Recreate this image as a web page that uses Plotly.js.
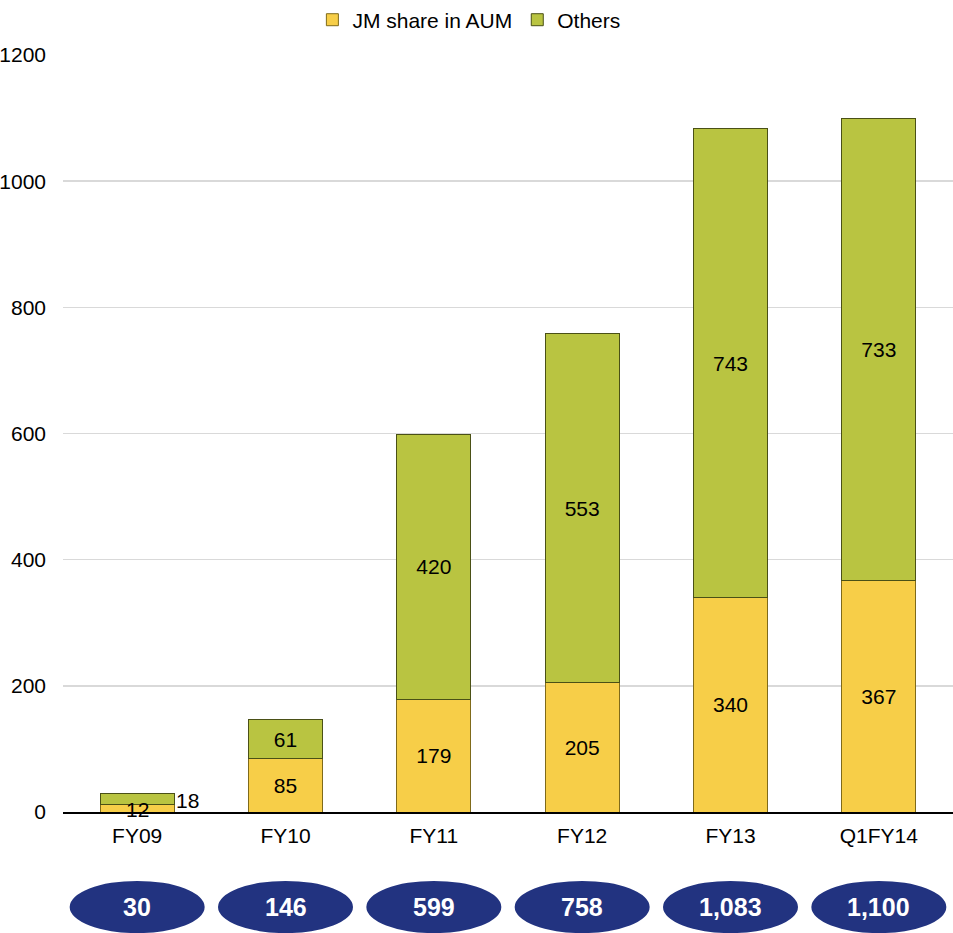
<!DOCTYPE html>
<html>
<head>
<meta charset="utf-8">
<script src="https://cdn.plot.ly/plotly-3.0.1.min.js"></script>
<style>html,body{margin:0;padding:0;background:#fff;}#chart{width:953px;height:933px;}</style>
</head>
<body>
<div id="chart"></div>
<script>
const categories = ["FY09", "FY10", "FY11", "FY12", "FY13", "Q1FY14"];
const jmShare = [12, 85, 179, 205, 340, 367];
const others = [18, 61, 420, 553, 743, 733];
const totals = [30, 146, 599, 758, 1083, 1100];
const totalLabels = ["30", "146", "599", "758", "1,083", "1,100"];
const yTicks = [0, 200, 400, 600, 800, 1000, 1200];

const FONT = "Liberation Sans, Arial, sans-serif";

// FY09 segments are too small: labels drawn as annotations instead of inside the bar
const jmText = jmShare.map((v, i) => i === 0 ? "" : String(v));
const otText = others.map((v, i) => i === 0 ? "" : String(v));

const traces = [
  {
    type: "bar", name: "JM share in AUM", x: categories, y: jmShare,
    text: jmText, textposition: "inside", insidetextanchor: "middle",
    textfont: {family: FONT, size: 21, color: "#000"},
    marker: {color: "#F7CE48", line: {color: "#7F6A1A", width: 1}},
    hoverinfo: "x+y+name"
  },
  {
    type: "bar", name: "Others", x: categories, y: others,
    text: otText, textposition: "inside", insidetextanchor: "middle",
    textfont: {family: FONT, size: 21, color: "#000"},
    marker: {color: "#B9C441", line: {color: "#4A5016", width: 1}},
    hoverinfo: "x+y+name"
  }
];

const shapes = categories.map((c, i) => ({
  type: "circle", xref: "x", yref: "paper",
  x0: i - 0.455, x1: i + 0.455, y0: -0.16, y1: -0.091,
  fillcolor: "#223380", line: {width: 0}, layer: "above"
}));

const annotations = categories.map((c, i) => ({
  xref: "x", yref: "paper", x: i, y: -0.1255, text: "<b>" + totalLabels[i] + "</b>",
  showarrow: false, xanchor: "center", yanchor: "middle",
  font: {family: FONT, size: 25, color: "#fff"}
}));
annotations.push({
  xref: "x", yref: "y", x: 0, y: jmShare[0] / 2, yshift: -1, text: String(jmShare[0]),
  showarrow: false, xanchor: "center", yanchor: "middle",
  font: {family: FONT, size: 21, color: "#000"}
});
annotations.push({
  xref: "x", yref: "y", x: 0.25, y: jmShare[0] + others[0] / 2, yshift: -2, text: String(others[0]),
  showarrow: false, xanchor: "left", yanchor: "middle",
  font: {family: FONT, size: 21, color: "#000"}
});

const layout = {
  width: 953, height: 933,
  margin: {l: 63, r: 0, t: 55, b: 121, autoexpand: false},
  paper_bgcolor: "#fff", plot_bgcolor: "#fff",
  barmode: "stack", bargap: 0.5,
  font: {family: FONT, size: 21, color: "#000"},
  showlegend: true,
  legend: {orientation: "h", traceorder: "normal", x: 0.492, xref: "container", xanchor: "center",
           y: 0.9785, yref: "container", yanchor: "middle",
           font: {family: FONT, size: 21, color: "#000"}, tracegroupgap: 0},
  xaxis: {
    type: "category", showgrid: false, showline: true, linecolor: "#000", linewidth: 1.5,
    ticks: "", tickfont: {family: FONT, size: 21, color: "#000"}, ticklabelstandoff: 4,
    fixedrange: true
  },
  yaxis: {
    range: [0, 1200], tickvals: yTicks, ticktext: yTicks.map(String),
    showgrid: true, gridcolor: "#D9D9D9", gridwidth: 1.5, zeroline: false, showline: false,
    ticks: "", tickfont: {family: FONT, size: 21, color: "#000"}, ticklabelstandoff: 16,
    fixedrange: true, automargin: false
  },
  shapes: shapes,
  annotations: annotations
};

Plotly.newPlot("chart", traces, layout, {displayModeBar: false, staticPlot: true});
</script>
</body>
</html>
